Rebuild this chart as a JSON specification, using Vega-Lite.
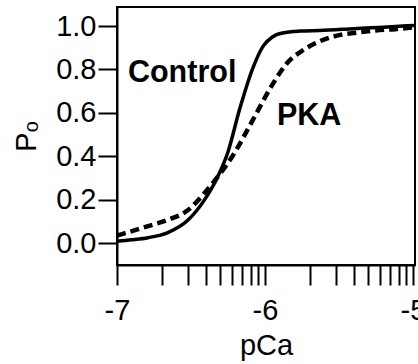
{
  "$schema": "https://vega.github.io/schema/vega-lite/v6.json",
  "autosize": "none",
  "width": 298,
  "height": 258,
  "padding": {"left": 117, "top": 7, "right": 3, "bottom": 99},
  "background": "white",
  "config": {
    "view": {"stroke": "black", "strokeWidth": 2},
    "font": "Liberation Sans",
    "axis": {"grid": false, "domainColor": "black", "domainWidth": 2, "tickColor": "black", "tickWidth": 2, "labelColor": "black", "titleColor": "black", "labelFont": "Liberation Sans", "titleFont": "Liberation Sans", "titleFontWeight": "normal"}
  },
  "datasets": {
    "curves": [
      {"logCa": -7.0, "Po": 0.008, "series": "Control"},
      {"logCa": -6.9, "Po": 0.015, "series": "Control"},
      {"logCa": -6.79, "Po": 0.025, "series": "Control"},
      {"logCa": -6.66, "Po": 0.047, "series": "Control"},
      {"logCa": -6.52, "Po": 0.106, "series": "Control"},
      {"logCa": -6.41, "Po": 0.198, "series": "Control"},
      {"logCa": -6.32, "Po": 0.305, "series": "Control"},
      {"logCa": -6.25, "Po": 0.42, "series": "Control"},
      {"logCa": -6.17, "Po": 0.62, "series": "Control"},
      {"logCa": -6.08, "Po": 0.81, "series": "Control"},
      {"logCa": -6.01, "Po": 0.91, "series": "Control"},
      {"logCa": -5.95, "Po": 0.95, "series": "Control"},
      {"logCa": -5.88, "Po": 0.968, "series": "Control"},
      {"logCa": -5.76, "Po": 0.977, "series": "Control"},
      {"logCa": -5.63, "Po": 0.98, "series": "Control"},
      {"logCa": -5.4, "Po": 0.988, "series": "Control"},
      {"logCa": -5.2, "Po": 0.995, "series": "Control"},
      {"logCa": -4.99, "Po": 1.003, "series": "Control"},
      {"logCa": -7.0, "Po": 0.035, "series": "PKA"},
      {"logCa": -6.95, "Po": 0.045, "series": "PKA"},
      {"logCa": -6.79, "Po": 0.078, "series": "PKA"},
      {"logCa": -6.66, "Po": 0.106, "series": "PKA"},
      {"logCa": -6.52, "Po": 0.152, "series": "PKA"},
      {"logCa": -6.41, "Po": 0.23, "series": "PKA"},
      {"logCa": -6.32, "Po": 0.305, "series": "PKA"},
      {"logCa": -6.22, "Po": 0.4, "series": "PKA"},
      {"logCa": -6.08, "Po": 0.57, "series": "PKA"},
      {"logCa": -5.95, "Po": 0.73, "series": "PKA"},
      {"logCa": -5.85, "Po": 0.83, "series": "PKA"},
      {"logCa": -5.74, "Po": 0.89, "series": "PKA"},
      {"logCa": -5.63, "Po": 0.93, "series": "PKA"},
      {"logCa": -5.52, "Po": 0.955, "series": "PKA"},
      {"logCa": -5.38, "Po": 0.97, "series": "PKA"},
      {"logCa": -5.25, "Po": 0.98, "series": "PKA"},
      {"logCa": -5.12, "Po": 0.986, "series": "PKA"},
      {"logCa": -4.99, "Po": 0.995, "series": "PKA"}
    ],
    "labels": [
      {"logCa": -6.926, "Po": 0.742, "text": "Control"},
      {"logCa": -5.919, "Po": 0.544, "text": "PKA"}
    ]
  },
  "layer": [
    {
      "data": {"name": "curves"},
      "transform": [{"filter": "datum.series == 'Control'"}],
      "mark": {"type": "line", "color": "black", "strokeWidth": 3.5, "interpolate": "monotone", "clip": true},
      "encoding": {
        "x": {
          "field": "logCa", "type": "quantitative",
          "scale": {"domain": [-7, -4.986], "nice": false, "zero": false},
          "axis": {
            "title": "pCa", "titleFontSize": 29, "titlePadding": 6,
            "values": [-7, -6.69897, -6.52288, -6.39794, -6.30103, -6.22185, -6.1549, -6.09691, -6.04576, -6, -5.69897, -5.52288, -5.39794, -5.30103, -5.22185, -5.1549, -5.09691, -5.04576, -5],
            "tickCount": 100,
            "labelExpr": "datum.value == -7 ? '-7' : datum.value == -6 ? '-6' : datum.value == -5 ? '-5' : ''",
            "labelOverlap": false, "labelFlush": false, "labelBound": false,
            "labelFontSize": 29, "labelPadding": 11, "labelDx": -2,
            "tickSize": 20
          }
        },
        "y": {
          "field": "Po", "type": "quantitative",
          "scale": {"domain": [-0.101, 1.088], "nice": false, "zero": false},
          "axis": {
            "title": "Pₒ", "titleFontSize": 29, "titlePadding": 14,
            "values": [0, 0.2, 0.4, 0.6, 0.8, 1.0], "format": ".1f",
            "labelFontSize": 29, "labelPadding": 2, "tickSize": 19
          }
        }
      }
    },
    {
      "data": {"name": "curves"},
      "transform": [{"filter": "datum.series == 'PKA'"}],
      "mark": {"type": "line", "color": "black", "strokeWidth": 4.5, "strokeDash": [9, 5], "interpolate": "monotone", "clip": true},
      "encoding": {
        "x": {"field": "logCa", "type": "quantitative"},
        "y": {"field": "Po", "type": "quantitative"}
      }
    },
    {
      "data": {"name": "labels"},
      "mark": {"type": "text", "align": "left", "baseline": "alphabetic", "fontSize": 30.5, "fontWeight": "bold", "font": "Liberation Sans", "color": "black"},
      "encoding": {
        "x": {"field": "logCa", "type": "quantitative"},
        "y": {"field": "Po", "type": "quantitative"},
        "text": {"field": "text"}
      }
    }
  ]
}
